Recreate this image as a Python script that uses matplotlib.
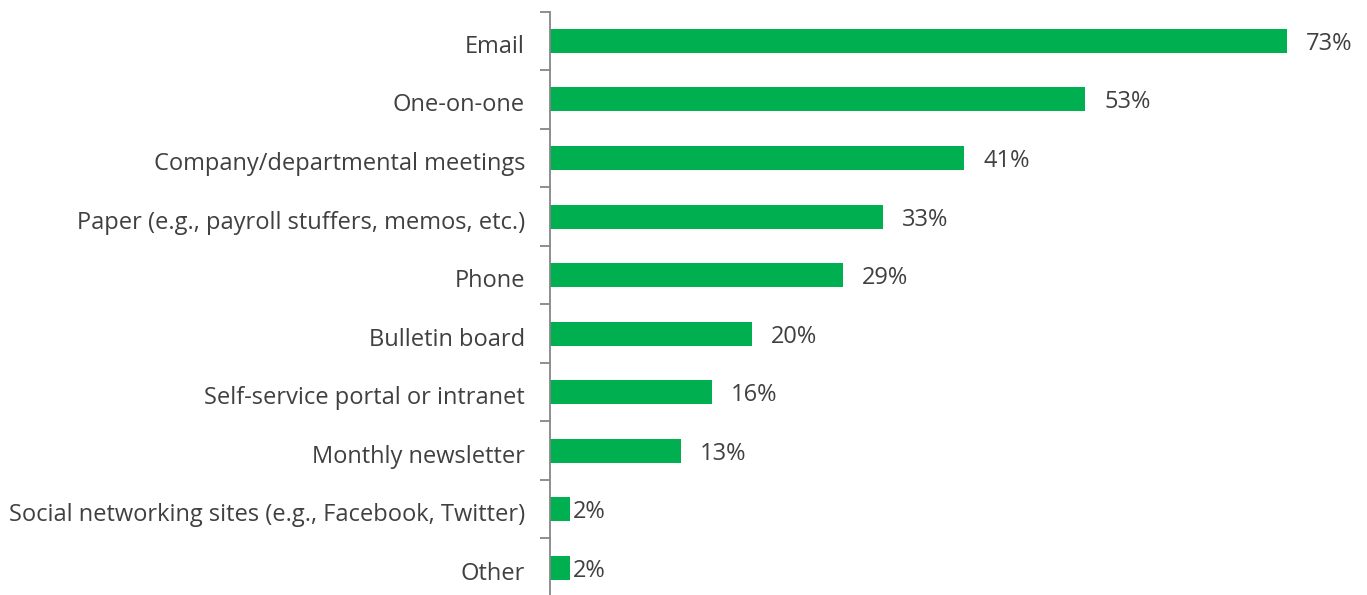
import numpy as np
import matplotlib.pyplot as plt
import matplotlib.transforms as mtransforms

plt.rcParams['font.family'] = ['Open Sans', 'DejaVu Sans']

channels = [
    "Email",
    "One-on-one",
    "Company/departmental meetings",
    "Paper (e.g., payroll stuffers, memos, etc.)",
    "Phone",
    "Bulletin board",
    "Self-service portal or intranet",
    "Monthly newsletter",
    "Social networking sites (e.g., Facebook, Twitter)",
    "Other",
]
pct = [73, 53, 41, 33, 29, 20, 16, 13, 2, 2]

green = "#00B050"
txt = "#404040"
axcol = "#868686"

fig = plt.figure(figsize=(13.67, 5.95), dpi=100)
ax = fig.add_axes([550 / 1367, -2 / 595, 808 / 1367, (597 - 11.7) / 595])

y = np.arange(len(channels))
ax.barh(y, pct, height=0.41, color=green, zorder=2)
ax.set_ylim(len(channels) - 0.5, -0.5)
ax.set_xlim(0, 80)

# nudge all text a few pixels down so it sits like Excel's labels
down = mtransforms.ScaledTranslation(0, -3 / 100, fig.dpi_scale_trans)

# category boundaries get the tick marks, names sit between them
ax.set_yticks(np.arange(len(channels) + 1) - 0.5)
ax.set_yticklabels([])
ax.set_yticks(y, minor=True)
ax.set_yticklabels(channels, minor=True, fontsize=17, color=txt)
ax.tick_params(axis='y', which='major', length=7, width=1.3, color=axcol, direction='out')
ax.tick_params(axis='y', which='minor', length=0, pad=18)
ax.set_xticks([])
for lab in ax.get_yticklabels(minor=True):
    lab.set_transform(lab.get_transform() + down)

for s in ['top', 'right', 'bottom']:
    ax.spines[s].set_visible(False)
ax.spines['left'].set_color(axcol)
ax.spines['left'].set_linewidth(1.3)

px = 80 / 808  # data units per pixel
for yi, v in zip(y, pct):
    pad = 3 if v < 5 else 19
    ax.text(v + pad * px, yi, f"{v}%", va='center', ha='left', fontsize=17,
            color=txt, transform=ax.transData + down)

fig.savefig("out.png", dpi=100)
